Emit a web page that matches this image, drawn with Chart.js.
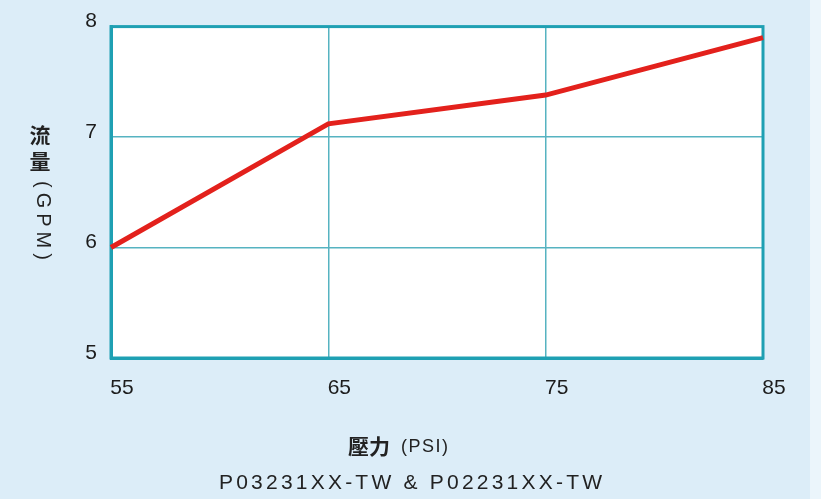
<!DOCTYPE html>
<html lang="zh-Hant">
<head>
    <meta charset="UTF-8">
    <title>壓力 - 流量</title>
    <script src="https://cdn.jsdelivr.net/npm/chart.js"></script>
    <style>
        html, body {
            margin: 0;
            padding: 0;
            background-color: #dcedf8;
        }
        #wrap {
            width: 821px;
            height: 499px;
        }
    </style>
</head>
<body>
    <div id="wrap"><canvas id="flowChart"></canvas></div>
    <script>
        // 資料
        const pressure = [55, 65, 75, 85];          // PSI
        const flow = [6.0, 7.12, 7.38, 7.9];         // GPM
        const xTicks = [55, 65, 75, 85];
        const yTicks = [5, 6, 7, 8];
        const yTitleChars = ['流', '量'];
        const yTitleUnit = '(GPM)';
        const xTitleMain = '壓力';
        const xTitleUnit = '(PSI)';
        const modelText = 'P03231XX-TW & P02231XX-TW';

        const teal = '#1fa0b3';
        const gridTeal = '#56b3c1';
        const sans = '"Liberation Sans", Arial, sans-serif';
        const cjk = '"Noto Sans CJK TC", "Noto Sans CJK SC", sans-serif';

        // 背景 + 圖區白底 + 外框 + 文字
        const decor = {
            id: 'decor',
            beforeDraw(chart) {
                const ctx = chart.ctx;
                const a = chart.chartArea;
                ctx.save();
                ctx.fillStyle = '#dcedf8';
                ctx.fillRect(0, 0, chart.width, chart.height);
                ctx.fillStyle = '#ebf5fb';
                ctx.fillRect(810, 0, chart.width - 810, chart.height);
                ctx.fillStyle = '#ffffff';
                ctx.fillRect(a.left, a.top, a.right - a.left, a.bottom - a.top);
                ctx.restore();
            },
            beforeDatasetsDraw(chart) {
                const ctx = chart.ctx;
                const a = chart.chartArea;
                ctx.save();
                ctx.strokeStyle = teal;
                ctx.lineWidth = 3;
                ctx.strokeRect(a.left, a.top, a.right - a.left, a.bottom - a.top);
                ctx.restore();
            },
            afterDraw(chart) {
                const ctx = chart.ctx;
                ctx.save();
                ctx.fillStyle = '#222';
                ctx.textAlign = 'center';
                ctx.textBaseline = 'middle';

                // Y 軸標題 (直書)
                ctx.font = 'bold 21px ' + cjk;
                ctx.fillText(yTitleChars[0], 40, 135);
                ctx.fillText(yTitleChars[1], 40, 161);
                ctx.translate(40, 181);
                ctx.rotate(Math.PI / 2);
                ctx.font = '20px ' + sans;
                ctx.textAlign = 'left';
                ctx.letterSpacing = '5px';
                ctx.fillText(yTitleUnit, 0, -3);
                ctx.setTransform(1, 0, 0, 1, 0, 0);

                // X 軸標題
                ctx.textAlign = 'left';
                ctx.letterSpacing = '0px';
                ctx.font = 'bold 21px ' + cjk;
                ctx.fillText(xTitleMain, 348, 446);
                ctx.font = '18px ' + sans;
                ctx.letterSpacing = '1.5px';
                ctx.fillText(xTitleUnit, 401, 447);

                // 型號
                ctx.font = '21px ' + sans;
                ctx.letterSpacing = '0px';
                const wm = ctx.measureText(modelText).width;
                const sp = (383 - wm) / (modelText.length - 1);
                ctx.letterSpacing = sp + 'px';
                ctx.fillText(modelText, 219, 483);
                ctx.restore();
            }
        };

        const ctx = document.getElementById('flowChart').getContext('2d');
        const flowChart = new Chart(ctx, {
            type: 'line',
            data: {
                labels: pressure,
                datasets: [{
                    label: '流量',
                    data: pressure.map((p, i) => ({ x: p, y: flow[i] })),
                    borderColor: '#e3211c',
                    borderWidth: 5,
                    pointRadius: 0,
                    tension: 0,
                    clip: 4
                }]
            },
            options: {
                responsive: true,
                maintainAspectRatio: false,
                animation: false,
                layout: {
                    padding: { top: 22, right: 58, bottom: 0, left: 0 }
                },
                plugins: {
                    legend: { display: false },
                    tooltip: { enabled: false }
                },
                scales: {
                    x: {
                        type: 'linear',
                        min: 55,
                        max: 85,
                        afterBuildTicks: s => { s.ticks = xTicks.map(v => ({ value: v })); },
                        afterFit: s => { s.height = 141; },
                        ticks: {
                            color: '#1c1c1c',
                            font: { family: sans, size: 21 },
                            padding: 18,
                            labelOffset: 11,
                            maxRotation: 0
                        },
                        grid: {
                            color: gridTeal,
                            lineWidth: 1.5,
                            drawTicks: false
                        },
                        border: { color: teal, width: 3 }
                    },
                    y: {
                        min: 5,
                        max: 8,
                        afterBuildTicks: s => { s.ticks = yTicks.map(v => ({ value: v })); },
                        afterFit: s => { s.width = 111; },
                        ticks: {
                            color: '#1c1c1c',
                            font: { family: sans, size: 21 },
                            padding: 14,
                            labelOffset: -5
                        },
                        grid: {
                            color: gridTeal,
                            lineWidth: 1.5,
                            drawTicks: false
                        },
                        border: { color: teal, width: 3 }
                    }
                }
            },
            plugins: [decor]
        });
    </script>
</body>
</html>
